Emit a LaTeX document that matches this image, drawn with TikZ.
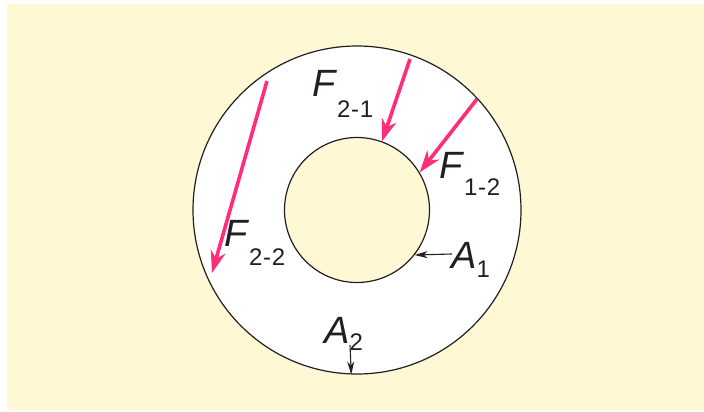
\documentclass[tikz,border=0pt]{standalone}
\usepackage{fontspec}
\setmainfont{Liberation Sans}
\usetikzlibrary{arrows.meta}
\definecolor{cream}{HTML}{FEF8D4}
\definecolor{hotpink}{HTML}{FF2D7A}
\definecolor{ink}{HTML}{231F20}
\tikzset{
  ring/.style={circle, draw=ink, line width=1.2pt, inner sep=0pt},
  force/.style={draw=hotpink, line width=3.6pt, -{Stealth[length=22pt,width=15pt,inset=7pt]}},
  areaarrow/.style={draw=ink, line width=1.1pt, -{Stealth[length=13pt,width=7pt,inset=4pt]}},
  lab/.style={anchor=base west, inner sep=0pt, text=ink, font=\fontsize{38}{38}\selectfont},
}
\newcommand{\lsub}[2]{\raisebox{-#1pt}{\fontsize{24}{24}\selectfont\addfontfeatures{LetterSpace=3}#2}}
\begin{document}
\begin{tikzpicture}[x=1pt,y=-1pt]
\useasboundingbox (0,0) rectangle (704,412);
\fill[cream] (7,4) rectangle (704,410);
\node[ring, fill=white, minimum size=328pt] (outer) at (357,210) {};
\node[ring, fill=cream, minimum size=145pt] (inner) at (357,210) {};
% force arrows
\coordinate (s21) at (410,59);
\coordinate (s12) at (477,99);
\coordinate (s22) at (267,81);
\coordinate (e22) at (212,273);
\draw[force] (s21) -- (inner.70);
\draw[force] (s12) -- (inner.31);
\draw[force] (s22) -- (e22);
% area arrows
\coordinate (a1s) at (452,254);
\coordinate (a2s) at (350,345);
\draw[areaarrow] (a1s) -- (inner.-38);
\draw[areaarrow] (a2s) -- (outer.-92.5);
% labels
\node[lab] (f21) at (312,96) {\textit{F}\lsub{21}{2-1}};
\node[lab] (f12) at (439,178) {\textit{F}\lsub{17}{1-2}};
\node[lab] (f22) at (224,246) {\textit{F}\lsub{19}{2-2}};
\node[lab] (la1) at (451,268) {\textit{A}\lsub{9}{1}};
\node[lab] (la2) at (324,343) {\textit{A}\lsub{7}{2}};
\end{tikzpicture}
\end{document}
